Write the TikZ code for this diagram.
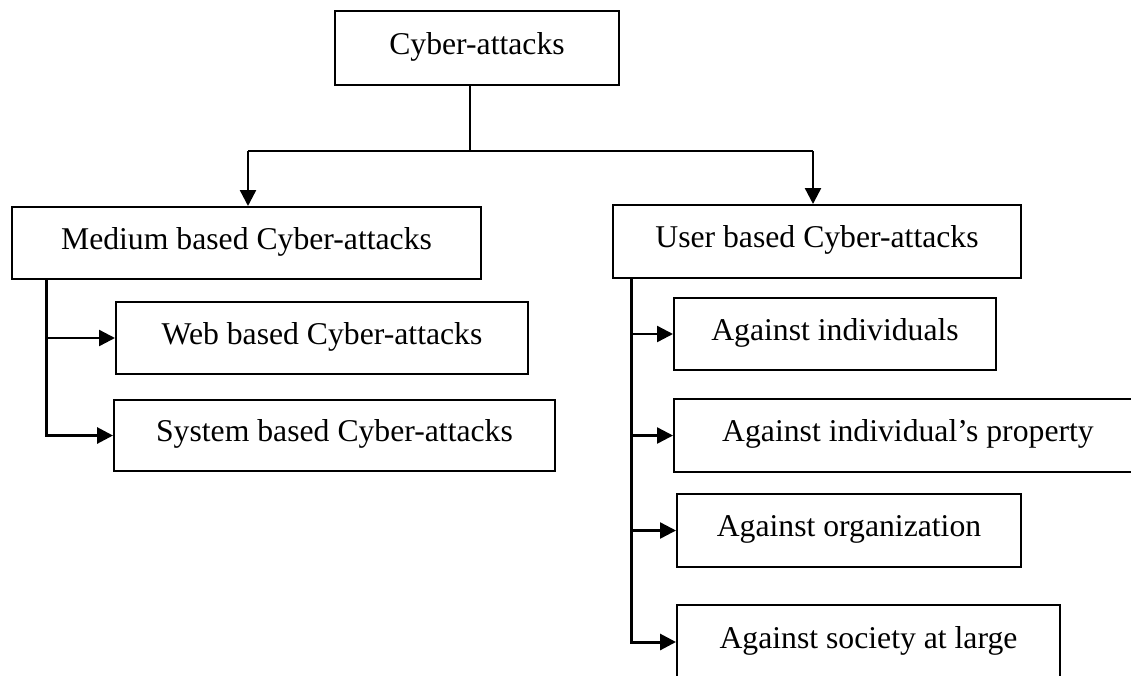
\documentclass[tikz,border=0pt]{standalone}
\usepackage{fontspec}
\setmainfont{Liberation Serif}
\usetikzlibrary{arrows.meta}
\begin{document}
\begin{tikzpicture}[x=1pt,y=-1pt,
  box/.style={draw=black,line width=2pt,rectangle,inner sep=0pt,
    font=\fontsize{31.7}{36}\selectfont,text height=22pt,text depth=10pt},
  line/.style={draw=black,line width=2.4pt},
  arr/.style={draw=black,line width=2.4pt,-{Triangle[length=16pt,width=16pt]}},
  tarr/.style={draw=black,line width=3pt,line join=miter,-{Triangle[length=16pt,width=16pt]}}]
\useasboundingbox (0,0) rectangle (1131,675);
\clip (0,0) rectangle (1131,675);
% boxes
\node[box,minimum width=284pt,minimum height=74pt] (top) at (477,48) {Cyber-attacks};
\node[box,minimum width=469pt,minimum height=72pt] (med) at (246.5,243) {Medium based Cyber-attacks};
\node[box,minimum width=408pt,minimum height=73pt] (user) at (817,241.5) {User based Cyber-attacks};
\node[box,minimum width=412pt,minimum height=72pt] (web) at (322,338) {Web based Cyber-attacks};
\node[box,minimum width=441pt,minimum height=71pt] (sys) at (334.5,435.5) {System based Cyber-attacks};
\node[box,minimum width=322pt,minimum height=72pt] (ind) at (835,334) {Against individuals};
\node[box,minimum width=468pt,minimum height=73pt] (prop) at (908,435.5) {Against individual’s property};
\node[box,minimum width=344pt,minimum height=73pt] (org) at (849,530.5) {Against organization};
\node[box,minimum width=383pt,minimum height=74pt] (soc) at (868.5,642) {Against society at large};
% top connectors
\coordinate (jl) at (248,151);
\coordinate (jr) at (813,151);
\coordinate (tc) at (470,85);
\draw[line] (tc) -- (tc |- jl);
\draw[line] (jl) -- (jr);
\draw[arr] (jl) -- (jl |- med.north);
\draw[arr] (jr) -- (jr |- user.north);
% left branch
\coordinate (lt) at (46,279);
\draw[tarr] (lt) |- (sys.west);
\draw[arr] (lt |- web.west) -- (web.west);
% right branch
\coordinate (rt) at (631,278);
\draw[tarr] (rt) |- (soc.west);
\draw[arr] (rt |- ind.west) -- (ind.west);
\draw[arr] (rt |- prop.west) -- (prop.west);
\draw[arr] (rt |- org.west) -- (org.west);
\end{tikzpicture}
\end{document}
